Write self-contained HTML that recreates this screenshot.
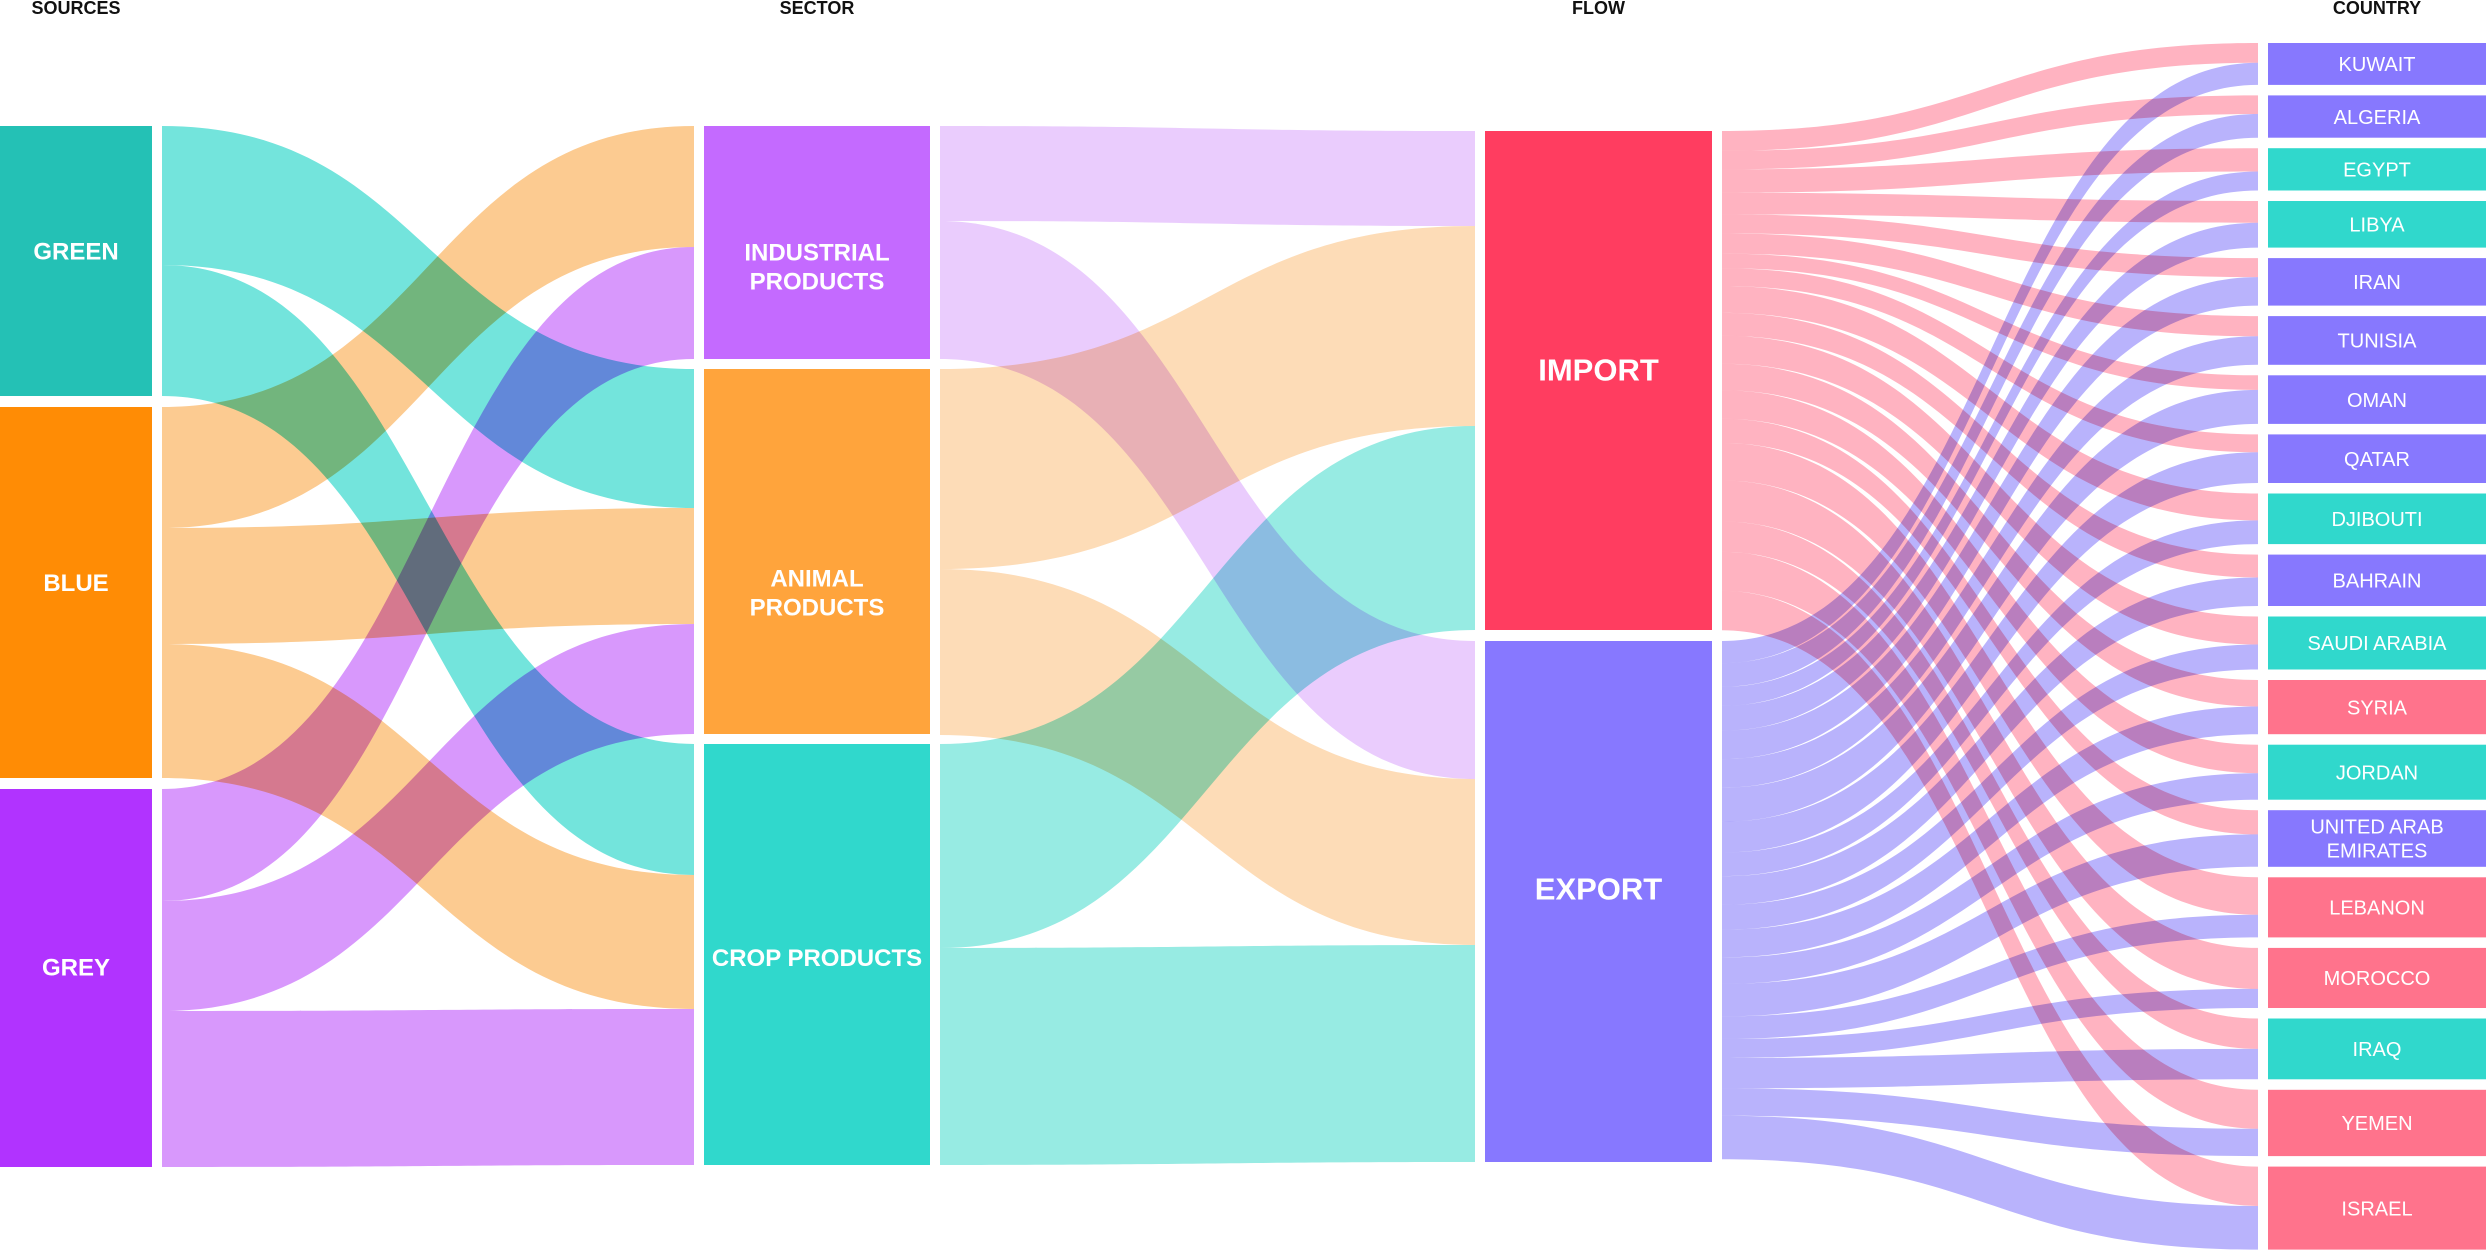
<!DOCTYPE html>
<html><head><meta charset="utf-8">
<style>
html,body{margin:0;padding:0;background:#fff;}
svg{display:block;font-family:"Liberation Sans",sans-serif;}
.lnk{mix-blend-mode:multiply;}
</style></head>
<body>
<svg id="chart" width="2486" height="1252" viewBox="0 0 2486 1252" xmlns="http://www.w3.org/2000/svg">
<g id="headers"></g>
<g id="links"></g>
<g id="nodes"></g>
</svg>
<script>
// ---- data ----
const sources = ["GREEN","BLUE","GREY"];
const sectors = ["INDUSTRIAL PRODUCTS","ANIMAL PRODUCTS","CROP PRODUCTS"];
const flows = ["IMPORT","EXPORT"];
const countries = ["KUWAIT","ALGERIA","EGYPT","LIBYA","IRAN","TUNISIA","OMAN","QATAR","DJIBOUTI","BAHRAIN","SAUDI ARABIA","SYRIA","JORDAN","UNITED ARAB EMIRATES","LEBANON","MOROCCO","IRAQ","YEMEN","ISRAEL"];
// source -> sector values (rows: sources, cols: sectors)
const greenToSector = [0, 139, 131];
const blueToSector = [121, 116, 134];
const greyToSector = [112, 110, 156];
// sector -> flow values (cols: import, export)
const industrialToFlow = [95, 138];
const animalToFlow = [200, 166];
const cropToFlow = [204, 217];
// flow -> country values
const importToCountry = [19.8,18.6,23.3,21.7,19,20.2,14.6,17.8,26.9,22.9,28,26.5,28.5,24.2,37.5,41,30.4,39,39.4];
const exportToCountry = [22.1,23.7,19,24.9,28.5,28.5,34,30.8,23.7,28.5,25,27.7,26.5,32.4,22.6,19.1,30.4,27.3,43.6];
const countryGroup = ["p","p","t","t","p","p","p","p","t","p","t","r","t","p","r","r","t","r","r"];

// ---- layout ----
const NS="http://www.w3.org/2000/svg";
function el(tag,attrs,parent){const e=document.createElementNS(NS,tag);for(const k in attrs)e.setAttribute(k,attrs[k]);parent.appendChild(e);return e;}
const cols=[
 {x0:0,x1:152,top:126,gap:11},
 {x0:704,x1:930,top:126,gap:10},
 {x0:1485,x1:1712,top:131,gap:11},
 {x0:2268,x1:2486,top:43,gap:10.5}
];
// label vertical nudges per column (style only)
const labelOffsets=[[-10,-10,-11],[24,41,3],[-11,-13],null];
const linkPad=10;
const srcMat=[greenToSector,blueToSector,greyToSector];
const secMat=[industrialToFlow,animalToFlow,cropToFlow];
const flowMat=[importToCountry,exportToCountry];
function sum(a){return a.reduce((s,v)=>s+v,0);}
function colSums(m){return m[0].map((_,j)=>sum(m.map(r=>r[j])));}
const h0=srcMat.map(sum), h1=colSums(srcMat), h2=colSums(secMat), h3=colSums(flowMat);
function place(heights,col){let y=col.top;return heights.map(h=>{const r={y0:y,y1:y+h};y+=h+col.gap;return r;});}
const P=[place(h0,cols[0]),place(h1,cols[1]),place(h2,cols[2]),place(h3,cols[3])];

const gL=document.getElementById('links');
function drawLinks(mat,ci,colors,namePrefix){
  const sp=P[ci],tp=P[ci+1];
  const outOff=sp.map(n=>n.y0), inOff=tp.map(n=>n.y0);
  const xa=cols[ci].x1+linkPad, xb=cols[ci+1].x0-linkPad, xm=(xa+xb)/2;
  for(let i=0;i<mat.length;i++){
    for(let j=0;j<mat[i].length;j++){
      const v=mat[i][j]; if(!v) continue;
      const a0=outOff[i],a1=a0+v; outOff[i]=a1;
      const b0=inOff[j],b1=b0+v; inOff[j]=b1;
      const d=`M${xa},${a0} C${xm},${a0} ${xm},${b0} ${xb},${b0} L${xb},${b1} C${xm},${b1} ${xm},${a1} ${xa},${a1} Z`;
      const p=el('path',{d:d,fill:colors[i],class:'lnk'},gL);
      
      
    }
  }
}
drawLinks(srcMat,0,["#73e4dc","#fccb91","#d898fc"],'source-sector');
drawLinks(secMat,1,["#eaccfd","#fddcb7","#97ebe3"],'sector-flow');
drawLinks(flowMat,2,["#ffb3c1","#b9b3fc"],'flow-country');

const gN=document.getElementById('nodes');
function drawNodes(ci,labels,colors,fs,weight){
  const c=cols[ci];
  labels.forEach((lab,i)=>{
    const n=P[ci][i];
    const g=el('g',{},gN);
    
    
    el('rect',{x:c.x0,y:n.y0,width:c.x1-c.x0,height:n.y1-n.y0,fill:colors[i]},g);
    const off=labelOffsets[ci]?labelOffsets[ci][i]:0;
    const cx=(c.x0+c.x1)/2, cy=(n.y0+n.y1)/2+off;
    let lines=[lab];
    if(lab.endsWith(" PRODUCTS") && lab!=="CROP PRODUCTS") lines=[lab.split(" ")[0],"PRODUCTS"];
    if(lab==="UNITED ARAB EMIRATES") lines=["UNITED ARAB","EMIRATES"];
    const lh=fs*1.2;
    lines.forEach((t,k)=>{
      const tx=el('text',{x:cx,y:cy+(k-(lines.length-1)/2)*lh+fs*0.36,'text-anchor':'middle','font-size':fs,'font-weight':weight,fill:'#fff'},g);
      tx.textContent=t;
    });
  });
}
drawNodes(0,sources,["#24c1b5","#ff8c05","#b133ff"],24,'bold');
drawNodes(1,sectors,["#c46aff","#ffa43c","#30d8cc"],24,'bold');
drawNodes(2,flows,["#ff3d60","#8778ff"],31,'bold');
const gc={p:"#8778fe",t:"#30d8cc",r:"#ff738c"};
drawNodes(3,countries,countryGroup.map(g=>gc[g]),20,'normal');

const gH=document.getElementById('headers');
["SOURCES","SECTOR","FLOW","COUNTRY"].forEach((h,i)=>{
  const t=el('text',{x:(cols[i].x0+cols[i].x1)/2,y:14,'text-anchor':'middle','font-size':18,'font-weight':'bold',fill:'#111'},gH);
  
  
  t.textContent=h;
});
</script>
</body></html>
